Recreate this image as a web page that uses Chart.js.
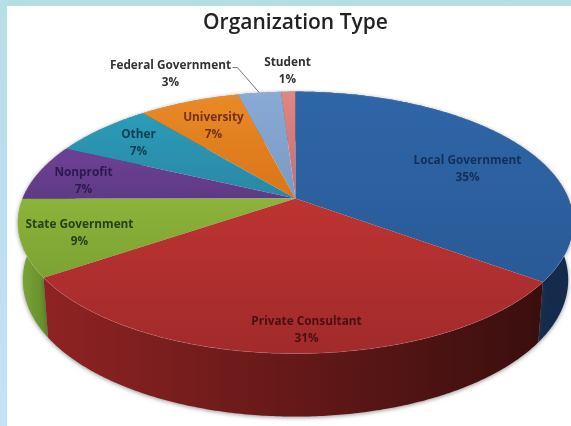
<!DOCTYPE html>
<html>
<head>
<meta charset="utf-8">
<style>
html,body{margin:0;padding:0;width:571px;height:426px;overflow:hidden;background:linear-gradient(180deg,#b6dfe4 0%,#bcdfee 45%,#c6e0f8 100%);}
#panel{position:absolute;left:7px;top:6px;width:564px;height:420px;background:#fff;}
#wrap{position:absolute;left:0;top:0;width:571px;height:426px;filter:blur(0.45px);}
</style>
<script src="https://cdn.jsdelivr.net/npm/chart.js@4/dist/chart.umd.min.js"></script>
</head>
<body>
<div id="panel"></div>
<div id="wrap"><canvas id="c" width="571" height="426"></canvas></div>
<script>
const categories = ["Local Government","Private Consultant","State Government","Nonprofit","Other","University","Federal Government","Student"];
const percentages = [35,30.5,9.45,7,7,7,3,1];
const chartTitle = "Organization Type";

const topColors = [["#2f66a8","#295a96"],["#bd3432","#a12a2b"],["#8cb33a","#7ca232"],["#6f4094","#5e3a86"],["#2a9cb8","#2a87a4"],["#e88a26","#da7418"],["#8aaad6","#7a9ac6"],["#df8783","#c86c6c"]];
const sideColors = [["#1c3f6c","#14294a"],["#8f2323","#3a0e0e"],["#7ea83a","#678f2c"],["#4d2c6c","#3f2459"],["#1e7088","#185e74"],["#b05a12","#99500f"],["#6480a5","#56708f"],["#a65555","#8f4848"]];
const labelColors = ["#12305a","#4a0f12","#26401a","#2b1a52","#103f52","#74301a","#333333","#333333"];
const labelOffsets = [[172,-29],[11,132],[-216,35],[-212,-17],[-157,-55],[-82,-72],[-125,-124],[-8,-127]];

// Perspective of the disc: rim half-width, half-height at the apex, foreshortening, wall height
const persp = {a:273, b:126.6, q:-0.183, wall:56, wallV:7, shrink:0.982};

function project(arc, ang, f){
  const u = Math.cos(ang)*f, v = Math.sin(ang)*f;
  const w = 1 + persp.q*v;
  return {x: arc.x + persp.a*u/w, y: arc.y + persp.b*v/w, v};
}
function rimPoints(arc){
  const pts=[], n=Math.max(4,Math.ceil((arc.endAngle-arc.startAngle)/0.01));
  for(let i=0;i<=n;i++){
    pts.push(project(arc, arc.startAngle+(arc.endAngle-arc.startAngle)*i/n, 1));
  }
  return pts;
}
function lower(p, arc){
  return {x: arc.x+(p.x-arc.x)*persp.shrink, y: p.y+persp.wall+persp.wallV*p.v};
}

const pie3d = {
  id:'pie3d',
  beforeDatasetDraw(chart, args){
    const arcs = chart.getDatasetMeta(args.index).data;
    const ctx = chart.ctx;
    const order = arcs.map((a,i)=>i).sort((i,j)=>
      Math.sin((arcs[i].startAngle+arcs[i].endAngle)/2)-Math.sin((arcs[j].startAngle+arcs[j].endAngle)/2));
    // walls
    ctx.save();
    order.forEach(i=>{
      const arc=arcs[i], pts=rimPoints(arc);
      const xs=pts.map(p=>p.x);
      const g=ctx.createLinearGradient(Math.min(...xs),0,Math.max(...xs),0);
      const s=sideColors[i];
      g.addColorStop(0,s[0]); g.addColorStop(1,s[1]);
      ctx.beginPath();
      pts.forEach((p,k)=>k?ctx.lineTo(p.x,p.y):ctx.moveTo(p.x,p.y));
      pts.slice().reverse().forEach(p=>{const l=lower(p,arc);ctx.lineTo(l.x,l.y);});
      ctx.closePath();
      ctx.shadowColor='rgba(60,60,60,0.55)';
      ctx.shadowBlur=4; ctx.shadowOffsetY=1;
      ctx.fillStyle=g; ctx.fill();
    });
    ctx.restore();
    // top faces
    order.forEach(i=>{
      const arc=arcs[i], pts=rimPoints(arc);
      const ys=pts.map(p=>p.y).concat(arc.y);
      const g=ctx.createLinearGradient(0,Math.min(...ys),0,Math.max(...ys));
      g.addColorStop(0,topColors[i][0]); g.addColorStop(1,topColors[i][1]);
      ctx.fillStyle=g;
      ctx.beginPath();
      ctx.moveTo(arc.x,arc.y);
      pts.forEach(p=>ctx.lineTo(p.x,p.y));
      ctx.closePath();
      ctx.fill();
    });
    // pale rim on the edge of the top face
    ctx.save();
    ctx.lineWidth=1; ctx.strokeStyle='rgba(255,255,255,0.12)';
    arcs.forEach(arc=>{
      const pts=rimPoints(arc);
      ctx.beginPath();
      pts.forEach((p,k)=>k?ctx.lineTo(p.x,p.y):ctx.moveTo(p.x,p.y));
      ctx.stroke();
    });
    ctx.restore();
    return false;
  },
  afterDatasetsDraw(chart){
    const arcs=chart.getDatasetMeta(0).data, ctx=chart.ctx;
    const cx=arcs[0].x, cy=arcs[0].y;
    // leader line for the thin Federal Government slice
    const fed=arcs[6];
    const anchor=project(fed,(fed.startAngle+fed.endAngle)/2,1);
    const lx=cx+labelOffsets[6][0]+62, ly=cy+labelOffsets[6][1]-7;
    ctx.save();
    ctx.strokeStyle='#777'; ctx.lineWidth=1;
    ctx.beginPath(); ctx.moveTo(lx,ly); ctx.lineTo(lx+5,ly); ctx.lineTo(anchor.x,anchor.y); ctx.stroke();
    // labels
    ctx.font='bold 11.8px "Open Sans"';
    ctx.textAlign='center'; ctx.textBaseline='middle';
    categories.forEach((name,i)=>{
      const x=cx+labelOffsets[i][0], y=cy+labelOffsets[i][1];
      ctx.fillStyle=labelColors[i];
      ctx.fillText(name,x,y-8.5);
      ctx.fillText(Math.round(percentages[i])+"%",x,y+8.5);
    });
    ctx.restore();
  }
};

new Chart(document.getElementById('c'),{
  type:'pie',
  data:{labels:categories,datasets:[{data:percentages,backgroundColor:topColors.map(c=>c[0]),borderWidth:0}]},
  options:{
    responsive:false,animation:false,
    layout:{padding:{left:20,right:0,top:10,bottom:70}},
    plugins:{
      legend:{display:false},tooltip:{enabled:false},
      title:{display:true,text:chartTitle,color:'#222',font:{family:'"Open Sans"',size:21,weight:'600'},padding:{top:0,bottom:6}}
    }
  },
  plugins:[pie3d]
});
</script>
</body>
</html>
